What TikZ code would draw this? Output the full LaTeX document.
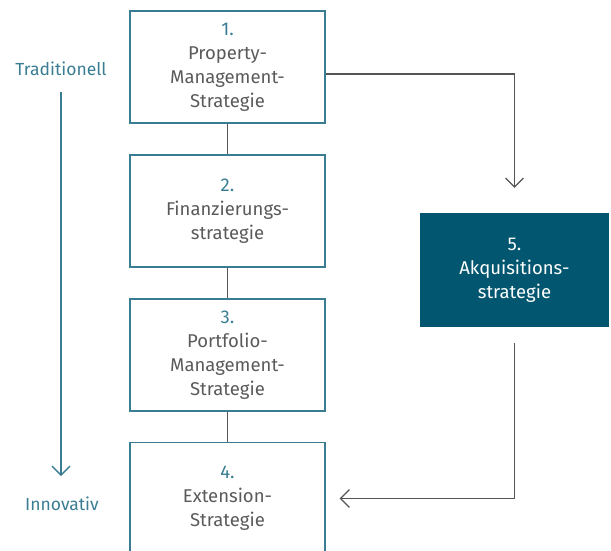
\documentclass[tikz,border=0pt]{standalone}
\usepackage{fontspec}
\setmainfont{Fira Sans}
\usetikzlibrary{arrows.meta}

\definecolor{petrol}{HTML}{3A7D93}
\definecolor{petroldark}{HTML}{02566F}
\definecolor{textgray}{HTML}{5A5A5A}
\definecolor{linegray}{HTML}{555555}

\tikzstyle{strategy-box}=[draw=petrol, line width=1.4pt, minimum width=195pt, minimum height=112pt,
      inner sep=0pt, align=center, text=textgray, font=\fontsize{18.5}{24}\selectfont]
\tikzstyle{strategy-focus}=[fill=petroldark, minimum width=189pt, minimum height=114pt,
      inner sep=0pt, align=center, text=white, font=\fontsize{18.5}{24}\selectfont]
\tikzstyle{axis-label}=[text=petrol, font=\fontsize{17.5}{24}\selectfont]
\tikzstyle{link}=[draw=linegray, line width=1.1pt]
\tikzstyle{link-arrow}=[link, -{Straight Barb[length=9pt, width=18pt, line width=1.1pt]}]

\begin{document}
\begin{tikzpicture}[x=1pt, y=-1pt]
      \useasboundingbox (0, 0) rectangle (611, 551);
      \clip (0, 0) rectangle (611, 551);
      % strategy boxes
      \node (strategy1) at (227.5, 67) [strategy-box]
            {\textcolor{petrol}{1.}\\Property-\\Management-\\Strategie};
      \node (strategy2) at (227.5, 211) [strategy-box]
            {\textcolor{petrol}{2.}\\Finanzierungs-\\strategie};
      \node (strategy3) at (227.5, 355) [strategy-box]
            {\textcolor{petrol}{3.}\\Portfolio-\\Management-\\Strategie};
      \node (strategy4) at (227.5, 498.5) [strategy-box]
            {\textcolor{petrol}{4.}\\Extension-\\Strategie};
      \node (strategy5) at (514.5, 270) [strategy-focus]
            {5.\\Akquisitions-\\strategie};

      % chain
      \draw [link] (strategy1) -- (strategy2);
      \draw [link] (strategy2) -- (strategy3);
      \draw [link] (strategy3) -- (strategy4);

      % acquisition loop
      \coordinate (into5) at ([yshift=25pt]strategy5.north);
      \coordinate (from5) at ([yshift=-16pt]strategy5.south);
      \coordinate (into4) at ([xshift=14pt]strategy4.east);
      \draw [link-arrow] ([yshift=-7pt]strategy1.east) -| (into5);
      \draw [link-arrow] (from5) |- (into4);

      % axis
      \node (traditional) at (61, 69) [axis-label] {Traditionell};
      \node (innovative) at (62, 504) [axis-label] {Innovativ};
      \coordinate (axis-top) at (61, 92);
      \coordinate (axis-bottom) at (61, 476);
      \draw [petrol, line width=1.4pt, -{Straight Barb[length=9pt, width=18pt, line width=1.4pt]}]
            (axis-top) -- (axis-bottom);
\end{tikzpicture}
\end{document}
